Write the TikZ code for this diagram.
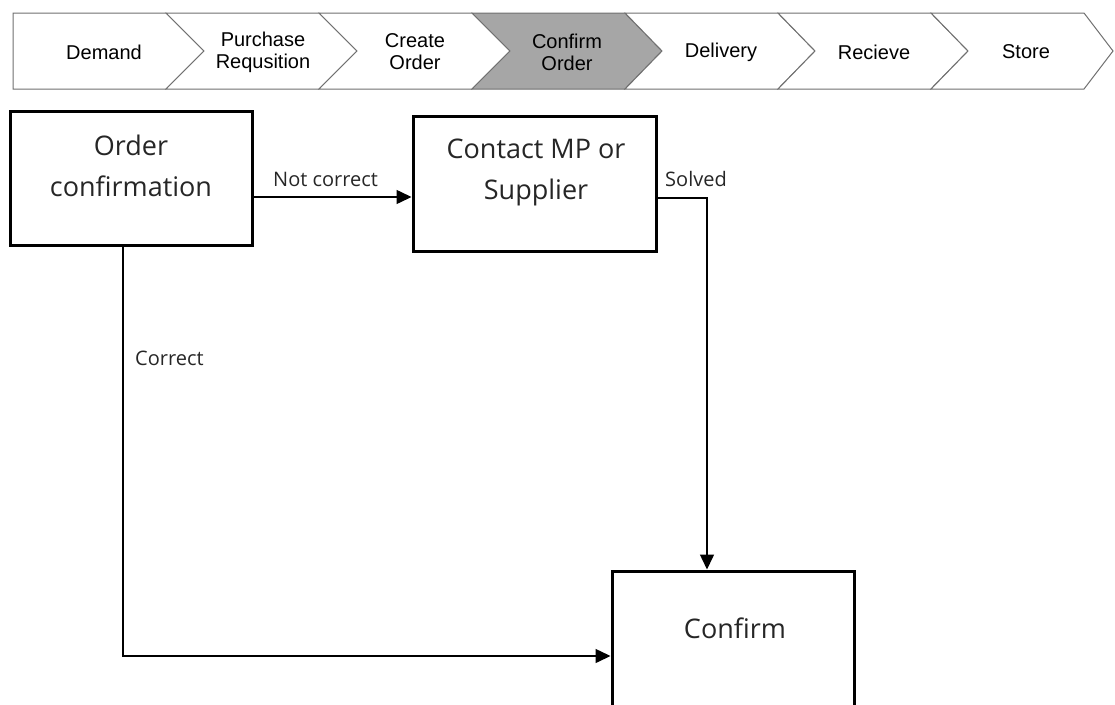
\documentclass[tikz,border=0pt]{standalone}
\usepackage{fontspec}
\setmainfont{Liberation Sans}
\newfontfamily\boxfont{Open Sans}
\usetikzlibrary{arrows.meta}
\definecolor{chevline}{HTML}{707070}
\definecolor{chevgray}{HTML}{A6A6A6}
\definecolor{boxtxt}{HTML}{262626}
\begin{document}
\begin{tikzpicture}[x=1pt,y=-1pt,
  chev/.style={draw=chevline, line width=1pt, fill=white, line join=miter},
  chevhi/.style={chev, fill=chevgray},
  chevtext/.style={font=\fontsize{20}{22}\selectfont, align=center, inner sep=0pt},
  procbox/.style={draw=black, line width=3pt, inner sep=0pt, fill=white},
  boxtext/.style={font=\boxfont\fontsize{27}{41}\selectfont, inner sep=0pt, anchor=base, text=boxtxt},
  lbl/.style={font=\boxfont\fontsize{20}{22}\selectfont, inner sep=0pt, anchor=base west, text=boxtxt},
  conn/.style={line width=1.5pt, -{Triangle[length=15pt,width=14pt]}},
]
\useasboundingbox (0,0) rectangle (1115,704);

% chevron bar
\draw[chev] (13,13) -- (166,13) -- (204,51) -- (166,89) -- (13,89) -- cycle;
\draw[chev] (166,13) -- (319,13) -- (357,51) -- (319,89) -- (166,89) -- (204,51) -- cycle;
\draw[chev] (319,13) -- (472,13) -- (510,51) -- (472,89) -- (319,89) -- (357,51) -- cycle;
\draw[chevhi] (472,13) -- (625,13) -- (662,51) -- (625,89) -- (472,89) -- (510,51) -- cycle;
\draw[chev] (625,13) -- (778,13) -- (815,51) -- (778,89) -- (625,89) -- (662,51) -- cycle;
\draw[chev] (778,13) -- (931,13) -- (968,51) -- (931,89) -- (778,89) -- (815,51) -- cycle;
\draw[chev] (931,13) -- (1084,13) -- (1113,51) -- (1084,89) -- (931,89) -- (968,51) -- cycle;

\node[chevtext] (t1) at (104,52) {Demand};
\node[chevtext] (t2) at (263,52) {Purchase\\Requsition};
\node[chevtext] (t3) at (415,52) {Create\\Order};
\node[chevtext] (t4) at (567,52) {Confirm\\Order};
\node[chevtext] (t5) at (721,52) {Delivery};
\node[chevtext] (t6) at (874,52) {Recieve};
\node[chevtext] (t7) at (1026,52) {Store};

% process boxes
\node[procbox, minimum width=242pt, minimum height=134pt] (oc) at (131,178) {};
\node[procbox, minimum width=243pt, minimum height=135pt] (cmp) at (534.5,183.5) {};
\node[procbox, minimum width=242pt, minimum height=150pt] (cf) at (733,646) {};

\node[boxtext] (octxt) at (131,155) {\begin{tabular}[t]{@{}c@{}}Order\\confirmation\end{tabular}};
\node[boxtext] (cmptxt) at (536,158) {\begin{tabular}[t]{@{}c@{}}Contact MP or\\Supplier\end{tabular}};
\node[boxtext] (cftxt) at (735,638) {Confirm};

% connectors
\draw[conn] (oc.east |- 0,197) -- (cmp.west |- 0,197);
\draw[conn] (cmp.east |- 0,198) -| (cf.north -| 707,0);
\draw[conn] (oc.south -| 123,0) |- (cf.west |- 0,656);

% labels
\node[lbl] (lnc) at (273,186) {Not correct};
\node[lbl] (lsv) at (665,186) {Solved};
\node[lbl] (lco) at (135,365) {Correct};
\end{tikzpicture}
\end{document}
